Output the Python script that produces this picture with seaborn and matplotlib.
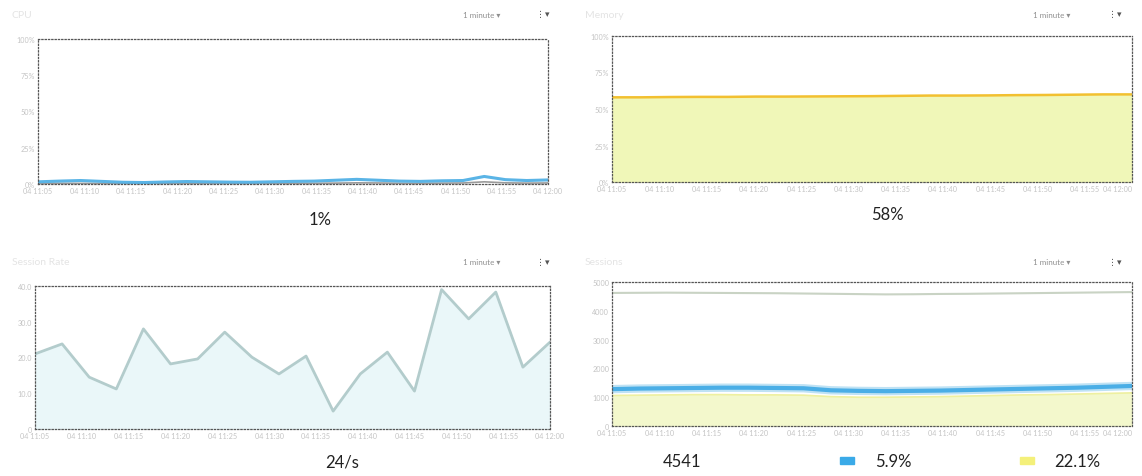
import numpy as np
import pandas as pd
import seaborn as sns
import matplotlib.pyplot as plt

# ---- data ----
time_labels = ["04 11:05", "04 11:10", "04 11:15", "04 11:20", "04 11:25", "04 11:30",
               "04 11:35", "04 11:40", "04 11:45", "04 11:50", "04 11:55", "04 12:00"]

cpu_main = [1.5, 2.0, 2.4, 1.8, 1.2, 1.0, 1.4, 1.7, 1.5, 1.3, 1.2, 1.5,
            1.8, 2.0, 2.6, 3.2, 2.6, 2.0, 1.8, 2.2, 2.4, 5.2, 3.0, 2.4, 2.8]
cpu_second = [0.6, 0.5, 0.4, 0.4, 0.5, 0.5, 0.4, 0.5, 0.6, 0.5, 0.4, 0.5,
              0.6, 0.5, 0.6, 0.8, 0.7, 0.5, 0.5, 0.6, 0.7, 1.5, 0.8, 0.6, 0.7]

mem_used = [58.0, 58.0, 58.2, 58.3, 58.3, 58.5, 58.5, 58.6, 58.7, 58.8, 59.0,
            59.2, 59.2, 59.3, 59.5, 59.6, 59.8, 60.0, 60.0]

session_rate = [21.0, 23.8, 14.5, 11.2, 28.0, 18.2, 19.6, 27.1, 20.1, 15.4,
                20.4, 5.0, 15.4, 21.5, 10.6, 39.0, 30.8, 38.3, 17.3, 24.3]

sess_total = [4620, 4625, 4630, 4625, 4620, 4615, 4610, 4600, 4590, 4580, 4570,
              4575, 4585, 4590, 4600, 4610, 4620, 4630, 4640, 4650]
sess_blue = [1280, 1300, 1310, 1320, 1330, 1330, 1320, 1310, 1240, 1220, 1210,
             1220, 1230, 1250, 1270, 1290, 1310, 1330, 1360, 1390]
sess_yellow = [1060, 1070, 1080, 1090, 1090, 1080, 1080, 1070, 1020, 1000, 1000,
               1010, 1020, 1040, 1060, 1080, 1090, 1110, 1130, 1150]

titles = ["CPU", "Memory", "Session Rate", "Sessions"]
summary = ["1%", "58%", "24/s"]
legend_vals = ["4541", "5.9%", "22.1%"]

sns.set_theme(style="white")
plt.rcParams['font.family'] = ['Lato', 'DejaVu Sans']

W, H = 1142, 477
fig = plt.figure(figsize=(W / 100, H / 100), dpi=100)
fig.patch.set_facecolor("white")

faint = "#c4c4c4"


def make_ax(x0, y0, x1, y1):
    ax = fig.add_axes([x0 / W, 1 - y1 / H, (x1 - x0) / W, (y1 - y0) / H])
    for s in ax.spines.values():
        s.set_linestyle(":")
        s.set_color("#555555")
        s.set_linewidth(0.9)
    ax.tick_params(axis="both", labelsize=5.2, colors=faint, length=0, pad=2)
    ax.grid(False)
    return ax


def set_time_ticks(ax, n, clip_last=False):
    ax.set_xlim(0, n - 1)
    ax.set_xticks(np.linspace(0, n - 1, len(time_labels)))
    ax.set_xticklabels(time_labels)
    if clip_last:
        ax.get_xticklabels()[-1].set_horizontalalignment("right")
    ax.set_xlabel("")
    ax.set_ylabel("")


# CPU
ax1 = make_ax(38, 40, 548, 185)
df = pd.DataFrame({"t": range(len(cpu_main)), "main": cpu_main, "sec": cpu_second})
sns.lineplot(data=df, x="t", y="sec", ax=ax1, color="#9a9a9a", lw=1.2)
sns.lineplot(data=df, x="t", y="main", ax=ax1, color="#5ab4e6", lw=2.2)
ax1.set_ylim(0, 100)
ax1.set_yticks([0, 25, 50, 75, 100])
ax1.set_yticklabels(["0%", "25%", "50%", "75%", "100%"])
set_time_ticks(ax1, len(cpu_main))

# Memory
ax2 = make_ax(612, 37, 1132, 183)
df = pd.DataFrame({"t": range(len(mem_used)), "v": mem_used})
ax2.fill_between(df["t"], 0, df["v"], color="#f0f7b8")
sns.lineplot(data=df, x="t", y="v", ax=ax2, color="#f2c030", lw=1.8)
ax2.set_ylim(0, 100)
ax2.set_yticks([0, 25, 50, 75, 100])
ax2.set_yticklabels(["0%", "25%", "50%", "75%", "100%"])
set_time_ticks(ax2, len(mem_used), clip_last=True)

# Session rate
ax3 = make_ax(35, 287, 550, 430)
df = pd.DataFrame({"t": range(len(session_rate)), "v": session_rate})
ax3.fill_between(df["t"], 0, df["v"], color="#eaf7f9")
sns.lineplot(data=df, x="t", y="v", ax=ax3, color="#b3cccc", lw=2.0)
ax3.set_ylim(0, 40)
ax3.set_yticks([0, 10, 20, 30, 40])
ax3.set_yticklabels(["0", "10.0", "20.0", "30.0", "40.0"])
set_time_ticks(ax3, len(session_rate))

# Sessions
ax4 = make_ax(612, 283, 1132, 427)
df = pd.DataFrame({"t": range(len(sess_total)), "tot": sess_total,
                   "b": sess_blue, "y": sess_yellow})
ax4.fill_between(df["t"], 0, df["y"], color="#f3f8cc")
sns.lineplot(data=df, x="t", y="tot", ax=ax4, color="#c9d3c4", lw=1.5)
sns.lineplot(data=df, x="t", y="y", ax=ax4, color="#eef0a0", lw=1.2)
sns.lineplot(data=df, x="t", y="b", ax=ax4, color="#bfe2f4", lw=6.0)
sns.lineplot(data=df, x="t", y="b", ax=ax4, color="#4aaee6", lw=3.0)
ax4.set_ylim(0, 5000)
ax4.set_yticks([0, 1000, 2000, 3000, 4000, 5000])
set_time_ticks(ax4, len(sess_total), clip_last=True)

# panel headers (faded in the scan)
for (tx, ty), title, rx, dx in [((12, 15), titles[0], 500, 543),
                                ((585, 15), titles[1], 1070, 1115),
                                ((12, 263), titles[2], 500, 543),
                                ((585, 263), titles[3], 1070, 1115)]:
    fig.text(tx / W, 1 - ty / H, title, fontsize=7.5, color="#e4e4e4", va="center")
    fig.text(rx / W, 1 - ty / H, "1 minute \u25be", fontsize=5.8, color="#8f8f8f",
             va="center", ha="right")
    fig.text(dx / W, 1 - ty / H, "\u22ee\u25be", fontsize=6.5, color="#555555",
             va="center", ha="center", family=["DejaVu Sans"])

# summary values
fig.text(320 / W, 1 - 220 / H, summary[0], fontsize=12, color="#222222", ha="center", va="center")
fig.text(887 / W, 1 - 215 / H, summary[1], fontsize=12, color="#222222", ha="center", va="center")
fig.text(342 / W, 1 - 463 / H, summary[2], fontsize=12, color="#222222", ha="center", va="center")
fig.text(682 / W, 1 - 462 / H, legend_vals[0], fontsize=12, color="#222222", ha="center", va="center")
fig.text(893 / W, 1 - 462 / H, legend_vals[1], fontsize=12, color="#222222", ha="center", va="center")
fig.text(1077 / W, 1 - 462 / H, legend_vals[2], fontsize=12, color="#222222", ha="center", va="center")
fig.patches.append(plt.Rectangle((840 / W, 1 - 465 / H), 14 / W, 7 / H,
                                 transform=fig.transFigure, color="#3aaae8"))
fig.patches.append(plt.Rectangle((1020 / W, 1 - 465 / H), 14 / W, 7 / H,
                                 transform=fig.transFigure, color="#f4f07a"))

fig.savefig("out.png", dpi=100, facecolor="white")
